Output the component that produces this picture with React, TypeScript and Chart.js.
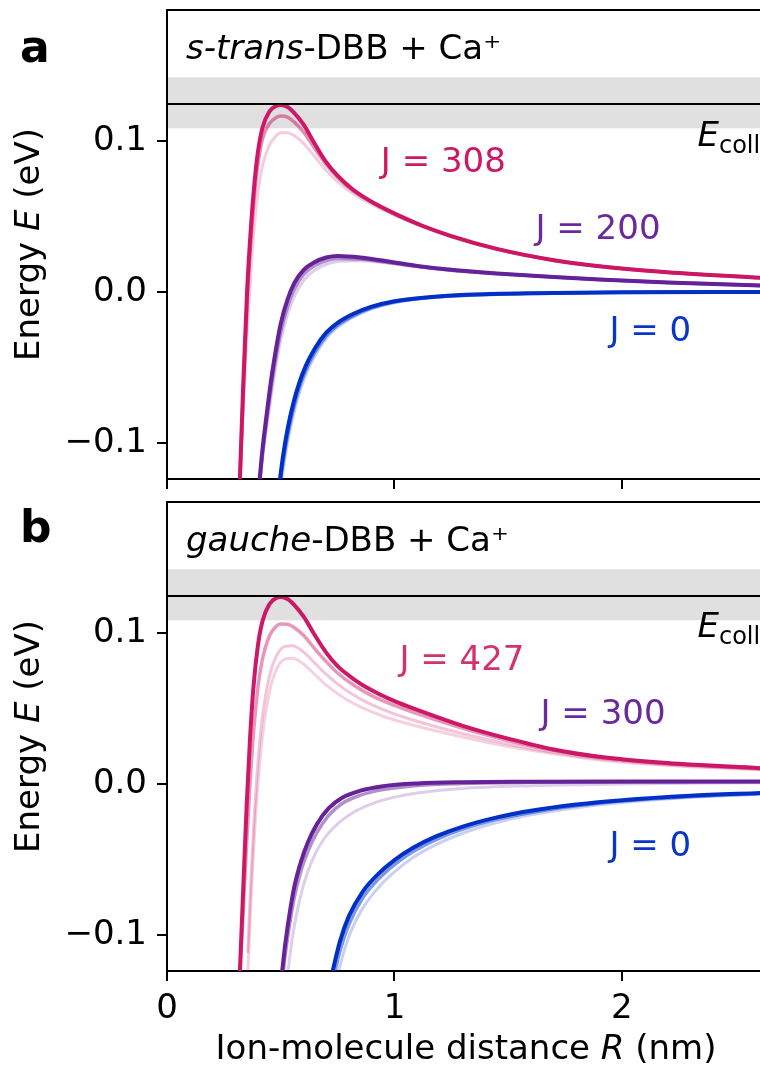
import { useEffect, useRef } from "react";
import { Chart, registerables } from "chart.js";

Chart.register(...registerables);

// ---------------- axes ----------------
const X_MIN = 0;
const X_MAX = 2.607;
const Y_MIN = -0.124;
const Y_MAX = 0.1868;
const X_TICKS = [0, 1, 2];
const Y_TICKS = [-0.1, 0.0, 0.1];

const E_COLL = 0.1245;
const E_COLL_BAND = [0.1084, 0.1422];

// ---------------- panel a: s-trans-DBB + Ca+ ----------------
// J = 308
const R_A308 = [0.32, 0.335, 0.352, 0.37, 0.385, 0.4, 0.42, 0.45, 0.48, 0.5, 0.53, 0.56, 0.6, 0.65, 0.7, 0.75, 0.82, 0.92, 1.02, 1.12, 1.25, 1.45, 1.7, 1.9, 2.2, 2.61];
const E_A308_DARK = [-0.126, -0.062, 0.0, 0.045, 0.073, 0.093, 0.109, 0.1195, 0.1232, 0.1238, 0.1225, 0.1185, 0.111, 0.098, 0.086, 0.077, 0.0675, 0.058, 0.0505, 0.044, 0.037, 0.0285, 0.021, 0.017, 0.013, 0.0093];
const E_A308_MID = [-0.127, -0.068, -0.008, 0.037, 0.065, 0.085, 0.1015, 0.1115, 0.1155, 0.1165, 0.1158, 0.1125, 0.106, 0.095, 0.0845, 0.076, 0.0668, 0.0577, 0.0502, 0.0438, 0.0368, 0.0284, 0.021, 0.017, 0.013, 0.0093];
const E_A308_LIGHT = [-0.13, -0.08, -0.028, 0.016, 0.045, 0.066, 0.084, 0.097, 0.1035, 0.1055, 0.1055, 0.1035, 0.0985, 0.0895, 0.0805, 0.073, 0.0648, 0.0565, 0.0495, 0.0435, 0.0366, 0.0283, 0.021, 0.017, 0.013, 0.0093];

// J = 200
const R_A200 = [0.405, 0.42, 0.44, 0.46, 0.48, 0.5, 0.53, 0.56, 0.6, 0.65, 0.7, 0.75, 0.85, 1.0, 1.1, 1.25, 1.45, 1.7, 1.9, 2.2, 2.61];
const E_A200_DARK = [-0.128, -0.104, -0.079, -0.056, -0.037, -0.021, -0.005, 0.006, 0.0145, 0.0198, 0.0228, 0.0238, 0.0228, 0.0195, 0.0172, 0.0146, 0.0122, 0.0098, 0.0082, 0.0062, 0.0042];
const E_A200_MID = [-0.13, -0.107, -0.083, -0.061, -0.042, -0.026, -0.0095, 0.002, 0.0115, 0.0175, 0.0208, 0.0222, 0.0218, 0.019, 0.0169, 0.0144, 0.0121, 0.0098, 0.0082, 0.0062, 0.0042];
const E_A200_LIGHT = [-0.134, -0.111, -0.088, -0.067, -0.048, -0.032, -0.015, -0.003, 0.0075, 0.0145, 0.0183, 0.0202, 0.0207, 0.0185, 0.0166, 0.0142, 0.012, 0.0097, 0.0082, 0.0062, 0.0042];

// J = 0
const R_A0 = [0.495, 0.51, 0.53, 0.555, 0.58, 0.61, 0.65, 0.7, 0.75, 0.82, 0.9, 1.0, 1.15, 1.35, 1.6, 2.0, 2.61];
const E_A0_DARK = [-0.126, -0.109, -0.091, -0.074, -0.061, -0.049, -0.0375, -0.027, -0.0205, -0.0145, -0.0098, -0.0062, -0.0035, -0.0018, -0.0009, -0.0003, 0.0];
const E_A0_MID = [-0.13, -0.113, -0.095, -0.078, -0.064, -0.052, -0.04, -0.029, -0.022, -0.0157, -0.0106, -0.0067, -0.0038, -0.002, -0.001, -0.0004, 0.0];
const E_A0_LIGHT = [-0.136, -0.119, -0.1, -0.082, -0.068, -0.055, -0.0425, -0.031, -0.0235, -0.0168, -0.0113, -0.0072, -0.0041, -0.0022, -0.0011, -0.0004, 0.0];

// ---------------- panel b: gauche-DBB + Ca+ ----------------
// J = 427
const R_B427 = [0.32, 0.335, 0.35, 0.365, 0.38, 0.4, 0.42, 0.45, 0.48, 0.5, 0.53, 0.56, 0.6, 0.65, 0.7, 0.75, 0.82, 0.9, 1.0, 1.1, 1.3, 1.5, 1.7, 1.9, 2.2, 2.61];
const E_B427_DARK = [-0.126, -0.07, -0.015, 0.03, 0.064, 0.092, 0.108, 0.119, 0.1232, 0.1238, 0.1225, 0.1185, 0.111, 0.0985, 0.087, 0.078, 0.0695, 0.062, 0.0548, 0.049, 0.0385, 0.03, 0.0228, 0.018, 0.0138, 0.0104];
const E_B427_MID = [-0.128, -0.085, -0.04, 0.0, 0.033, 0.064, 0.083, 0.098, 0.1045, 0.106, 0.1058, 0.1035, 0.0985, 0.0895, 0.081, 0.0735, 0.0655, 0.0585, 0.052, 0.0465, 0.0368, 0.0287, 0.0222, 0.0176, 0.0135, 0.0102];
const R_B427_LIGHT = [0.355, 0.37, 0.385, 0.4, 0.42, 0.45, 0.48, 0.52, 0.55, 0.6, 0.65, 0.7, 0.78, 0.86, 0.95, 1.05, 1.2, 1.4, 1.6, 1.9, 2.2, 2.61];
const E_B427_PALE = [-0.112, -0.06, -0.018, 0.015, 0.045, 0.071, 0.0845, 0.0912, 0.0915, 0.0875, 0.08, 0.0725, 0.0628, 0.0555, 0.0492, 0.0438, 0.0372, 0.0297, 0.0235, 0.0166, 0.0127, 0.0097];
const E_B427_LIGHT = [-0.126, -0.075, -0.032, 0.0, 0.032, 0.0605, 0.0755, 0.0828, 0.0832, 0.0795, 0.0725, 0.0655, 0.0568, 0.0503, 0.0448, 0.0402, 0.0345, 0.0278, 0.0222, 0.0158, 0.0122, 0.0094];

// J = 300
const R_B300 = [0.505, 0.52, 0.54, 0.56, 0.59, 0.62, 0.66, 0.71, 0.77, 0.85, 0.95, 1.1, 1.3, 1.6, 2.0, 2.61];
const E_B300_DARK = [-0.126, -0.106, -0.085, -0.068, -0.051, -0.0385, -0.0265, -0.0163, -0.0092, -0.0045, -0.0015, 0.0003, 0.0011, 0.0014, 0.0015, 0.0015];
const E_B300_MID = [-0.133, -0.113, -0.092, -0.075, -0.057, -0.0445, -0.032, -0.021, -0.013, -0.0075, -0.0038, -0.001, 0.0003, 0.001, 0.0013, 0.0014];
const R_B300_LIGHT = [0.53, 0.55, 0.57, 0.6, 0.64, 0.69, 0.75, 0.82, 0.9, 1.0, 1.1, 1.3, 1.6, 2.0, 2.61];
const E_B300_LIGHT = [-0.126, -0.103, -0.086, -0.067, -0.05, -0.0365, -0.0265, -0.0188, -0.0132, -0.0088, -0.006, -0.003, -0.0012, 0.0, 0.0008];

// J = 0
const R_B0 = [0.725, 0.76, 0.8, 0.86, 0.93, 1.0, 1.08, 1.18, 1.3, 1.45, 1.6, 1.8, 2.0, 2.3, 2.61];
const E_B0_DARK = [-0.126, -0.1045, -0.0875, -0.0715, -0.0595, -0.0505, -0.0425, -0.035, -0.0283, -0.0222, -0.0178, -0.0137, -0.0108, -0.0079, -0.006];
const E_B0_MID = [-0.133, -0.111, -0.093, -0.0757, -0.063, -0.0535, -0.045, -0.0371, -0.03, -0.0235, -0.0189, -0.0145, -0.0114, -0.0084, -0.0064];
const E_B0_LIGHT = [-0.145, -0.121, -0.101, -0.0825, -0.0686, -0.0583, -0.049, -0.0404, -0.0327, -0.0256, -0.0205, -0.0158, -0.0124, -0.0091, -0.0069];

// ---------------- styling ----------------
const PINK = [204, 24, 102];
const PURPLE = [102, 34, 153];
const BLUE = [0, 48, 200];
const FONT = '"DejaVu Sans", sans-serif';
const FS = 34;

type Part = { t: string; i?: boolean; b?: boolean; s?: number; dy?: number };

function fontOf(p: Part) {
  return `${p.i ? "italic " : ""}${p.b ? "bold " : ""}${p.s || FS}px ${FONT}`;
}

function drawRich(ctx: CanvasRenderingContext2D, parts: Part[], x: number, y: number, color: string, align: "left" | "center" = "left") {
  ctx.save();
  ctx.fillStyle = color;
  ctx.textBaseline = "alphabetic";
  ctx.textAlign = "left";
  const widths = parts.map((p) => {
    ctx.font = fontOf(p);
    return ctx.measureText(p.t).width;
  });
  const total = widths.reduce((a, b) => a + b, 0);
  let cx = align === "center" ? x - total / 2 : x;
  parts.forEach((p, k) => {
    ctx.font = fontOf(p);
    ctx.fillText(p.t, cx, y + (p.dy || 0));
    cx += widths[k];
  });
  ctx.restore();
}

function rgba(c: number[], a: number) {
  return `rgba(${c[0]},${c[1]},${c[2]},${a})`;
}

function curve(r: number[], e: number[], c: number[], alpha: number, width: number) {
  return {
    data: r.map((x, k) => ({ x, y: e[k] })),
    borderColor: rgba(c, alpha),
    borderWidth: width,
    pointRadius: 0,
    pointHoverRadius: 0,
    fill: false,
    cubicInterpolationMode: "monotone" as const,
    clip: 0,
  };
}

type Label = { parts: Part[]; r: number; e: number; color: string };

type PanelCfg = {
  datasets: any[];
  letter: string;
  letterY: number;
  title: Part[];
  labels: Label[];
  padTop: number;
  xAxisHeight: number;
  showXLabels: boolean;
  xTitle: boolean;
};

function makeChart(canvas: HTMLCanvasElement, cfg: PanelCfg) {
  const decor = {
    id: "decor",
    beforeDraw(chart: any) {
      const { ctx, chartArea: a, scales } = chart;
      const y1 = scales.y.getPixelForValue(E_COLL_BAND[1]);
      const y0 = scales.y.getPixelForValue(E_COLL_BAND[0]);
      ctx.save();
      ctx.fillStyle = "#e0e0e0";
      ctx.fillRect(a.left, y1, a.right - a.left, y0 - y1);
      ctx.restore();
    },
    afterDatasetsDraw(chart: any) {
      const { ctx, chartArea: a, scales } = chart;
      const y = scales.y.getPixelForValue(E_COLL);
      ctx.save();
      ctx.strokeStyle = "#000";
      ctx.lineWidth = 2;
      ctx.beginPath();
      ctx.moveTo(a.left, y);
      ctx.lineTo(a.right, y);
      ctx.stroke();
      ctx.restore();
    },
    afterDraw(chart: any) {
      const { ctx, chartArea: a, scales } = chart;
      ctx.save();
      ctx.strokeStyle = "#000";
      ctx.lineWidth = 2;
      ctx.beginPath();
      ctx.moveTo(a.left - 1, a.top);
      ctx.lineTo(a.right, a.top);
      ctx.stroke();
      ctx.restore();
      drawRich(ctx, cfg.title, a.left + 19, a.top + 49, "#000");
      cfg.labels.forEach((l) => {
        drawRich(ctx, l.parts, scales.x.getPixelForValue(l.r), scales.y.getPixelForValue(l.e), l.color);
      });
      drawRich(ctx, [{ t: cfg.letter, b: true, s: 44 }], 20, cfg.letterY, "#000");
      ctx.save();
      ctx.translate(39, (a.top + a.bottom) / 2);
      ctx.rotate(-Math.PI / 2);
      drawRich(ctx, [{ t: "Energy " }, { t: "E", i: true }, { t: " (eV)" }], 0, 0, "#000", "center");
      ctx.restore();
      if (cfg.xTitle) {
        drawRich(
          ctx,
          [{ t: "Ion-molecule distance " }, { t: "R", i: true }, { t: " (nm)" }],
          466,
          chart.height - 6,
          "#000",
          "center"
        );
      }
    },
  };

  return new Chart(canvas, {
    type: "line",
    data: { datasets: cfg.datasets },
    options: {
      animation: false,
      responsive: false,
      devicePixelRatio: 1,
      layout: { padding: { top: cfg.padTop, left: 0, right: 0, bottom: 0 } },
      plugins: { legend: { display: false }, tooltip: { enabled: false } },
      events: [],
      scales: {
        x: {
          type: "linear",
          min: X_MIN,
          max: X_MAX,
          afterBuildTicks: (s: any) => {
            s.ticks = X_TICKS.map((v) => ({ value: v }));
          },
          afterFit: (s: any) => {
            s.height = cfg.xAxisHeight;
            s.paddingLeft = 0;
            s.paddingRight = 0;
          },
          ticks: {
            display: cfg.showXLabels,
            autoSkip: false,
            maxRotation: 0,
            color: "#000",
            padding: 8,
            font: { family: FONT, size: FS },
            callback: (v: any) => String(v),
          },
          grid: { drawOnChartArea: false, drawTicks: true, tickLength: 10, lineWidth: 2, color: "#000" },
          border: { display: true, color: "#000", width: 2 },
        },
        y: {
          type: "linear",
          min: Y_MIN,
          max: Y_MAX,
          afterBuildTicks: (s: any) => {
            s.ticks = Y_TICKS.map((v) => ({ value: v }));
          },
          afterFit: (s: any) => {
            s.width = 167;
            s.paddingTop = 0;
            s.paddingBottom = 0;
          },
          ticks: {
            color: "#000",
            padding: 10,
            font: { family: FONT, size: FS },
            callback: (v: any) => {
              const n = Number(v);
              const s = Math.abs(n).toFixed(1);
              return n < -1e-9 ? "\u2212" + s : s;
            },
          },
          grid: { drawOnChartArea: false, drawTicks: true, tickLength: 10, lineWidth: 2, color: "#000" },
          border: { display: true, color: "#000", width: 2 },
        },
      },
    },
    plugins: [decor],
  } as any);
}

const PINK_B_LABEL = "#d2326f";
const PINK_LABEL = "#cc1866";
const PURPLE_LABEL = "#6a2a9e";
const BLUE_LABEL = "#0a36c8";

export default function App() {
  const refA = useRef<HTMLCanvasElement>(null);
  const refB = useRef<HTMLCanvasElement>(null);

  useEffect(() => {
    const dsA = [
      curve(R_A308, E_A308_LIGHT, PINK, 0.22, 3),
      curve(R_A308, E_A308_MID, PINK, 0.5, 3.5),
      curve(R_A308, E_A308_DARK, PINK, 1, 4),
      curve(R_A200, E_A200_LIGHT, PURPLE, 0.22, 3),
      curve(R_A200, E_A200_MID, PURPLE, 0.5, 3.5),
      curve(R_A200, E_A200_DARK, PURPLE, 1, 4),
      curve(R_A0, E_A0_LIGHT, BLUE, 0.22, 3),
      curve(R_A0, E_A0_MID, BLUE, 0.5, 3.5),
      curve(R_A0, E_A0_DARK, BLUE, 1, 4),
    ];
    const dsB = [
      curve(R_B427_LIGHT, E_B427_LIGHT, PINK, 0.2, 3),
      curve(R_B427_LIGHT, E_B427_PALE, PINK, 0.25, 3),
      curve(R_B427, E_B427_MID, PINK, 0.45, 3.5),
      curve(R_B427, E_B427_DARK, PINK, 1, 4),
      curve(R_B300_LIGHT, E_B300_LIGHT, PURPLE, 0.22, 3),
      curve(R_B300, E_B300_MID, PURPLE, 0.5, 3.5),
      curve(R_B300, E_B300_DARK, PURPLE, 1, 4),
      curve(R_B0, E_B0_LIGHT, BLUE, 0.22, 3),
      curve(R_B0, E_B0_MID, BLUE, 0.5, 3.5),
      curve(R_B0, E_B0_DARK, BLUE, 1, 4),
    ];
    const eColl: Part[] = [{ t: "E", i: true }, { t: "coll", s: 24, dy: 7 }];
    const chartA = makeChart(refA.current!, {
      datasets: dsA,
      letter: "a",
      letterY: 62,
      title: [{ t: "s-trans", i: true }, { t: "-DBB + Ca\u207A" }],
      labels: [
        { parts: [{ t: "J = 308" }], r: 0.94, e: 0.0795, color: PINK_LABEL },
        { parts: [{ t: "J = 200" }], r: 1.62, e: 0.0351, color: PURPLE_LABEL },
        { parts: [{ t: "J = 0" }], r: 1.945, e: -0.0325, color: BLUE_LABEL },
        { parts: eColl, r: 2.332, e: 0.0967, color: "#000" },
      ],
      padTop: 10,
      xAxisHeight: 11,
      showXLabels: false,
      xTitle: false,
    });
    const chartB = makeChart(refB.current!, {
      datasets: dsB,
      letter: "b",
      letterY: 52,
      title: [{ t: "gauche", i: true }, { t: "-DBB + Ca\u207A" }],
      labels: [
        { parts: [{ t: "J = 427" }], r: 1.022, e: 0.0755, color: PINK_B_LABEL },
        { parts: [{ t: "J = 300" }], r: 1.642, e: 0.0397, color: PURPLE_LABEL },
        { parts: [{ t: "J = 0" }], r: 1.945, e: -0.0477, color: BLUE_LABEL },
        { parts: eColl, r: 2.332, e: 0.0974, color: "#000" },
      ],
      padTop: 12,
      xAxisHeight: 94,
      showXLabels: true,
      xTitle: true,
    });
    return () => {
      chartA.destroy();
      chartB.destroy();
    };
  }, []);

  return (
    <div style={{ position: "fixed", left: 0, top: 0, width: 760, height: 1065, background: "#fff", overflow: "hidden" }}>
      <canvas ref={refA} width={760} height={490} style={{ position: "absolute", left: 0, top: 0, width: 760, height: 490 }} />
      <canvas ref={refB} width={760} height={575} style={{ position: "absolute", left: 0, top: 490, width: 760, height: 575 }} />
    </div>
  );
}
